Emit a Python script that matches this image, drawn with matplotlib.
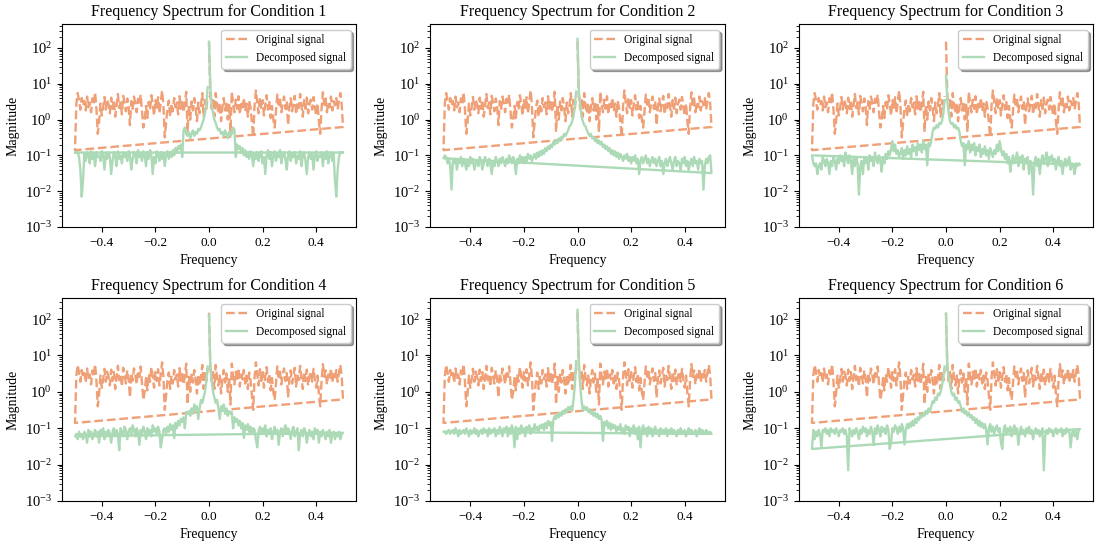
import numpy as np
import matplotlib
matplotlib.use('Agg')
import matplotlib.pyplot as plt

plt.rcParams['font.family'] = ['Liberation Serif', 'DejaVu Serif']
plt.rcParams['mathtext.fontset'] = 'stix'

# magnitudes on the positive half, f = 0, 0.005, ..., 0.495
original_half = [
    150, 4.5, 2.0, 3.5, 1.2, 5.5, 2.5, 1.5, 3.0, 0.9,
    2.2, 4.0, 1.8, 3.2, 1.0, 2.6, 0.45, 6.0, 2.8, 1.6,
    3.6, 2.0, 4.5, 1.4, 3.0, 2.2, 4.0, 1.7, 2.8, 1.2,
    3.4, 2.1, 0.8, 0.32, 2.5, 6.5, 3.0, 1.5, 4.2, 2.0,
    3.5, 1.3, 2.7, 4.8, 1.9, 3.1, 1.1, 2.4, 1.0, 0.6,
    1.8, 5.0, 2.6, 3.8, 1.6, 2.9, 4.4, 2.0, 3.3, 0.7,
    2.3, 3.9, 1.7, 2.8, 4.6, 1.4, 3.0, 2.1, 5.2, 2.4,
    1.2, 3.5, 2.0, 4.1, 1.5, 2.7, 3.6, 1.9, 4.3, 2.2,
    1.3, 2.8, 0.9, 0.4, 2.0, 5.8, 2.6, 3.9, 1.6, 3.0,
    2.2, 4.4, 1.8, 3.3, 2.5, 4.0, 1.9, 3.4, 5.5, 2.8,
]
original_ends = (0.62, 0.14)  # value at +0.5, value at -0.5

decomposed_half_1 = [
    150, 8, 2.5, 1.5, 1.0, 0.8, 0.6, 0.5, 0.55, 0.4,
    0.45, 0.35, 0.5, 0.4, 0.3, 0.45, 0.35, 0.4, 0.6, 0.5,
    0.09, 0.2, 0.15, 0.18, 0.12, 0.16, 0.1, 0.14, 0.09, 0.12,
    0.08, 0.13, 0.1, 0.05, 0.11, 0.08, 0.12, 0.07, 0.1, 0.13,
    0.06, 0.09, 0.03, 0.1, 0.14, 0.08, 0.12, 0.05, 0.1, 0.13,
    0.07, 0.11, 0.09, 0.14, 0.06, 0.1, 0.12, 0.08, 0.04, 0.1,
    0.13, 0.07, 0.11, 0.09, 0.12, 0.06, 0.1, 0.08, 0.13, 0.05,
    0.1, 0.12, 0.07, 0.03, 0.09, 0.12, 0.08, 0.11, 0.04, 0.1,
    0.13, 0.07, 0.1, 0.09, 0.12, 0.05, 0.11, 0.08, 0.13, 0.06,
    0.1, 0.12, 0.07, 0.11, 0.02, 0.007, 0.04, 0.09, 0.12, 0.12,
]
decomposed_half_2 = [
    180, 6, 2.5, 1.2, 0.9, 0.7, 0.65, 0.5, 0.42, 0.35,
    0.4, 0.3, 0.33, 0.25, 0.3, 0.22, 0.26, 0.2, 0.24, 0.17,
    0.2, 0.15, 0.18, 0.13, 0.16, 0.11, 0.14, 0.1, 0.13, 0.09,
    0.12, 0.08, 0.11, 0.09, 0.07, 0.1, 0.08, 0.11, 0.07, 0.09,
    0.06, 0.09, 0.07, 0.1, 0.06, 0.08, 0.03, 0.07, 0.09, 0.06,
    0.08, 0.1, 0.06, 0.08, 0.05, 0.07, 0.09, 0.06, 0.08, 0.05,
    0.07, 0.09, 0.05, 0.07, 0.03, 0.06, 0.08, 0.05, 0.07, 0.09,
    0.06, 0.04, 0.07, 0.09, 0.05, 0.07, 0.06, 0.04, 0.08, 0.06,
    0.09, 0.05, 0.07, 0.04, 0.06, 0.08, 0.05, 0.09, 0.06, 0.07,
    0.04, 0.08, 0.06, 0.07, 0.011, 0.05, 0.08, 0.06, 0.09, 0.1,
]
decomposed_half_3 = [
    17, 3.5, 1.5, 0.9, 0.75, 0.8, 0.6, 0.7, 0.55, 0.6,
    0.45, 0.25, 0.18, 0.22, 0.053, 0.2, 0.15, 0.25, 0.12, 0.2,
    0.14, 0.22, 0.1, 0.17, 0.13, 0.2, 0.09, 0.15, 0.11, 0.18,
    0.1, 0.14, 0.08, 0.16, 0.12, 0.09, 0.14, 0.11, 0.2, 0.13,
    0.25, 0.15, 0.1, 0.13, 0.08, 0.11, 0.06, 0.09, 0.035, 0.07,
    0.1, 0.06, 0.08, 0.12, 0.05, 0.09, 0.07, 0.1, 0.04, 0.08,
    0.06, 0.09, 0.03, 0.07, 0.05, 0.008, 0.06, 0.09, 0.05, 0.08,
    0.03, 0.07, 0.1, 0.06, 0.08, 0.12, 0.05, 0.09, 0.07, 0.1,
    0.06, 0.08, 0.04, 0.07, 0.09, 0.05, 0.07, 0.03, 0.06, 0.08,
    0.05, 0.07, 0.09, 0.04, 0.06, 0.05, 0.03, 0.06, 0.05, 0.06,
]
decomposed_half_4 = [
    130, 5, 2.0, 1.0, 0.7, 0.5, 0.6, 0.35, 0.18, 0.4,
    0.3, 0.45, 0.25, 0.35, 0.22, 0.3, 0.25, 0.28, 0.1, 0.2,
    0.15, 0.18, 0.12, 0.16, 0.1, 0.14, 0.054, 0.12, 0.09, 0.13,
    0.08, 0.11, 0.07, 0.1, 0.09, 0.05, 0.03, 0.08, 0.11, 0.07,
    0.1, 0.08, 0.12, 0.06, 0.09, 0.07, 0.1, 0.05, 0.08, 0.11,
    0.07, 0.09, 0.035, 0.08, 0.1, 0.06, 0.09, 0.12, 0.07, 0.1,
    0.08, 0.05, 0.09, 0.11, 0.06, 0.08, 0.1, 0.025, 0.07, 0.09,
    0.06, 0.1, 0.08, 0.04, 0.07, 0.09, 0.06, 0.08, 0.05, 0.1,
    0.07, 0.09, 0.04, 0.08, 0.06, 0.09, 0.07, 0.05, 0.08, 0.06,
    0.09, 0.04, 0.07, 0.08, 0.05, 0.07, 0.06, 0.08, 0.05, 0.07,
]
decomposed_half_5 = [
    180, 7, 1.5, 0.6, 0.3, 0.4, 0.32, 0.38, 0.28, 0.33,
    0.25, 0.3, 0.22, 0.27, 0.2, 0.25, 0.18, 0.22, 0.17, 0.045,
    0.15, 0.12, 0.16, 0.1, 0.14, 0.09, 0.13, 0.1, 0.12, 0.08,
    0.11, 0.09, 0.13, 0.08, 0.1, 0.07, 0.12, 0.09, 0.11, 0.06,
    0.1, 0.08, 0.12, 0.07, 0.1, 0.05, 0.11, 0.03, 0.09, 0.12,
    0.07, 0.1, 0.06, 0.11, 0.08, 0.1, 0.06, 0.09, 0.11, 0.07,
    0.09, 0.06, 0.1, 0.08, 0.09, 0.07, 0.1, 0.06, 0.09, 0.08,
    0.1, 0.07, 0.09, 0.08, 0.06, 0.09, 0.07, 0.1, 0.08, 0.07,
    0.09, 0.06, 0.08, 0.1, 0.07, 0.09, 0.08, 0.07, 0.09, 0.06,
    0.08, 0.1, 0.07, 0.09, 0.08, 0.07, 0.09, 0.08, 0.07, 0.08,
]
decomposed_half_6 = [
    140, 5, 2.5, 1.5, 1.0, 0.8, 0.9, 0.6, 0.7, 0.5,
    0.55, 0.4, 0.28, 0.35, 0.25, 0.3, 0.22, 0.27, 0.2, 0.23,
    0.17, 0.2, 0.14, 0.18, 0.12, 0.16, 0.11, 0.14, 0.1, 0.13,
    0.09, 0.036, 0.1, 0.13, 0.08, 0.11, 0.07, 0.1, 0.12, 0.08,
    0.1, 0.04, 0.027, 0.09, 0.12, 0.07, 0.1, 0.08, 0.11, 0.06,
    0.09, 0.12, 0.07, 0.1, 0.035, 0.08, 0.11, 0.07, 0.09, 0.06,
    0.1, 0.08, 0.11, 0.07, 0.09, 0.05, 0.08, 0.1, 0.07, 0.09,
    0.06, 0.08, 0.1, 0.007, 0.06, 0.09, 0.07, 0.1, 0.08, 0.09,
    0.06, 0.08, 0.1, 0.07, 0.09, 0.08, 0.1, 0.06, 0.09, 0.07,
    0.1, 0.08, 0.09, 0.03, 0.07, 0.09, 0.06, 0.08, 0.05, 0.09,
]
decomposed_halves = [decomposed_half_1, decomposed_half_2, decomposed_half_3,
                     decomposed_half_4, decomposed_half_5, decomposed_half_6]
decomposed_ends = [(0.12, 0.12), (0.032, 0.083), (0.055, 0.1),
                   (0.075, 0.06), (0.07, 0.08), (0.095, 0.027)]

# fft-style ordering: 0 .. +0.5, then -0.5 .. -0.005
freq = np.concatenate([np.linspace(0, 0.5, 101), np.linspace(-0.5, -0.005, 100)])


def full_spectrum(half, ends):
    right_end, left_end = ends
    pos = list(half) + [right_end]
    neg = [left_end] + list(half[:0:-1])
    return np.array(pos + neg)


orig = full_spectrum(original_half, original_ends)

fig, axes = plt.subplots(2, 3, figsize=(11, 5.44), dpi=100)
for i, ax in enumerate(axes.flat):
    dec = full_spectrum(decomposed_halves[i], decomposed_ends[i])
    ax.plot(freq, orig, '--', color='#f0a077', lw=1.7, label='Original signal')
    ax.plot(freq, dec, '-', color='#acdab6', lw=1.7, label='Decomposed signal')
    ax.set_yscale('log')
    ax.set_ylim(1e-3, 470 if i < 3 else 380)
    ax.set_title(f'Frequency Spectrum for Condition {i + 1}', fontsize=11.5)
    ax.set_xlabel('Frequency', fontsize=10)
    ax.set_ylabel('Magnitude', fontsize=10)
    ax.tick_params(axis='x', labelsize=9.5)
    ax.tick_params(axis='y', labelsize=10.5)
    ax.legend(loc='upper right', fontsize=8.3, shadow=True, handlelength=1.8)

plt.subplots_adjust(left=0.056, right=0.994, top=0.956, bottom=0.079,
                    wspace=0.25, hspace=0.35)
plt.savefig('out.png')
